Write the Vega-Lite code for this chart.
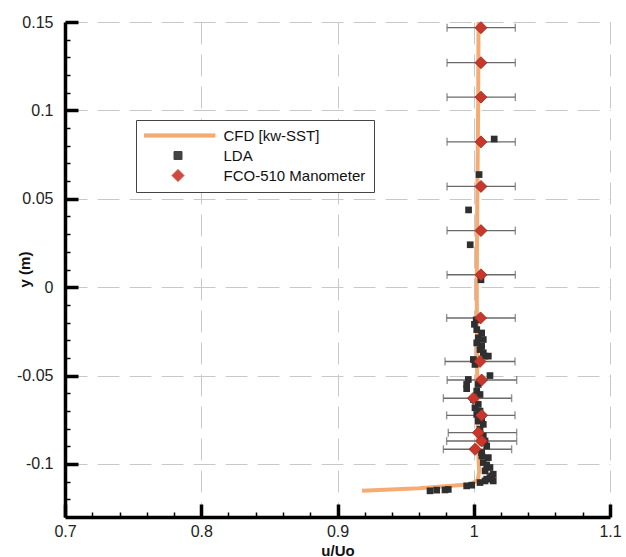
{
  "$schema": "https://vega.github.io/schema/vega-lite/v6.json",
  "width": 545,
  "height": 495,
  "autosize": {"type": "none"},
  "padding": {"left": 65, "top": 22, "right": 16, "bottom": 40},
  "background": "white",
  "config": {
    "view": {"stroke": null},
    "font": "Liberation Sans"
  },
  "datasets": {
    "cfd": [
      {"i": 1, "x": 1.0035, "y": 0.15},
      {"i": 2, "x": 1.0032, "y": 0.1},
      {"i": 3, "x": 1.0026, "y": 0.05},
      {"i": 4, "x": 1.0022, "y": 0.0},
      {"i": 5, "x": 1.0025, "y": -0.05},
      {"i": 6, "x": 1.003, "y": -0.09},
      {"i": 7, "x": 1.004, "y": -0.104},
      {"i": 8, "x": 1.003, "y": -0.109},
      {"i": 9, "x": 0.998, "y": -0.1115},
      {"i": 10, "x": 0.96, "y": -0.1137},
      {"i": 11, "x": 0.918, "y": -0.1152}
    ],
    "lda": [
      {"x": 1.015, "y": 0.0838},
      {"x": 1.0039, "y": 0.0637},
      {"x": 0.9962, "y": 0.0437},
      {"x": 0.9974, "y": 0.024},
      {"x": 1.0053, "y": 0.0042},
      {"x": 1.0018, "y": -0.0185},
      {"x": 1.0005, "y": -0.021},
      {"x": 1.0022, "y": -0.024},
      {"x": 1.0058, "y": -0.0259},
      {"x": 1.0033, "y": -0.0287},
      {"x": 1.007, "y": -0.0296},
      {"x": 1.0022, "y": -0.0315},
      {"x": 1.0058, "y": -0.0334},
      {"x": 1.0046, "y": -0.0353},
      {"x": 1.007, "y": -0.0371},
      {"x": 1.0083, "y": -0.039},
      {"x": 1.0107, "y": -0.039},
      {"x": 0.9997, "y": -0.0409},
      {"x": 1.0009, "y": -0.0437},
      {"x": 1.0119, "y": -0.05},
      {"x": 0.996, "y": -0.0522},
      {"x": 0.9948, "y": -0.055},
      {"x": 0.9948, "y": -0.0574},
      {"x": 1.0033, "y": -0.055},
      {"x": 1.0022, "y": -0.0588},
      {"x": 1.0046, "y": -0.0607},
      {"x": 0.9997, "y": -0.0635},
      {"x": 1.0033, "y": -0.0663},
      {"x": 1.0009, "y": -0.0682},
      {"x": 1.0046, "y": -0.0701},
      {"x": 1.0022, "y": -0.072},
      {"x": 1.0058, "y": -0.0738},
      {"x": 1.0033, "y": -0.0757},
      {"x": 1.007, "y": -0.0776},
      {"x": 1.0046, "y": -0.0804},
      {"x": 1.007, "y": -0.0842},
      {"x": 1.0083, "y": -0.087},
      {"x": 1.0095, "y": -0.0898},
      {"x": 1.0058, "y": -0.0936},
      {"x": 1.006, "y": -0.0955},
      {"x": 1.0107, "y": -0.0964},
      {"x": 1.007, "y": -0.0992},
      {"x": 1.0095, "y": -0.1005},
      {"x": 1.0119, "y": -0.102},
      {"x": 1.0083, "y": -0.1039},
      {"x": 1.0131, "y": -0.1068},
      {"x": 1.0095, "y": -0.1086},
      {"x": 1.0143, "y": -0.1096},
      {"x": 0.9679, "y": -0.1152},
      {"x": 0.9728, "y": -0.1148},
      {"x": 0.9789, "y": -0.1147},
      {"x": 0.9813, "y": -0.1144},
      {"x": 0.9948, "y": -0.1124},
      {"x": 0.9985, "y": -0.112},
      {"x": 1.0046, "y": -0.1105},
      {"x": 1.0083, "y": -0.1096},
      {"x": 1.0119, "y": -0.1077},
      {"x": 1.0143, "y": -0.1058}
    ],
    "man": [
      {"x": 1.0053, "y": 0.1468, "lo": 0.9804, "hi": 1.0305},
      {"x": 1.0053, "y": 0.127, "lo": 0.9804, "hi": 1.0305},
      {"x": 1.0053, "y": 0.1075, "lo": 0.9804, "hi": 1.0305},
      {"x": 1.0053, "y": 0.0822, "lo": 0.9804, "hi": 1.0305},
      {"x": 1.0053, "y": 0.057, "lo": 0.9804, "hi": 1.0305},
      {"x": 1.0053, "y": 0.032, "lo": 0.9804, "hi": 1.0305},
      {"x": 1.0053, "y": 0.007, "lo": 0.9804, "hi": 1.0305},
      {"x": 1.005, "y": -0.0174, "lo": 0.9801, "hi": 1.0305},
      {"x": 1.0046, "y": -0.042, "lo": 0.9789, "hi": 1.0303},
      {"x": 1.0058, "y": -0.0525, "lo": 0.9805, "hi": 1.0315},
      {"x": 0.9997, "y": -0.0628, "lo": 0.9777, "hi": 1.0278},
      {"x": 1.0058, "y": -0.0725, "lo": 0.9801, "hi": 1.0303},
      {"x": 1.0034, "y": -0.0823, "lo": 0.9813, "hi": 1.0315},
      {"x": 1.0058, "y": -0.087, "lo": 0.9801, "hi": 1.0315},
      {"x": 1.0009, "y": -0.0917, "lo": 0.9777, "hi": 1.0278}
    ]
  },
  "layer": [
    {
      "data": {"name": "man"},
      "mark": {"type": "rule", "stroke": "#6a6a6a", "strokeWidth": 1.4},
      "encoding": {
        "x": {
          "field": "lo", "type": "quantitative",
          "scale": {"domain": [0.7, 1.1], "nice": false, "zero": false},
          "axis": {
            "values": [0.7, 0.72, 0.74, 0.76, 0.78, 0.8, 0.82, 0.84, 0.86, 0.88, 0.9, 0.92, 0.94, 0.96, 0.98, 1, 1.02, 1.04, 1.06, 1.08, 1.1],
            "tickCount": 200,
            "title": "u/Uo",
            "titleFontSize": 15,
            "titleFontWeight": "bold",
            "titleColor": "#111",
            "titleY": 33,
            "titleBaseline": "middle",
            "labelExpr": "indexof([0.7,0.8,0.9,1,1.1], datum.value) >= 0 ? ''+datum.value : ''",
            "labelFontSize": 16,
            "labelColor": "#222",
            "labelFlush": false,
            "labelOverlap": false,
            "labelPadding": 19,
            "tickColor": "black",
            "tickSize": {"condition": {"test": "indexof([0.7,0.8,0.9,1,1.1], datum.value) >= 0", "value": -13}, "value": -5},
            "tickWidth": {"condition": {"test": "indexof([0.7,0.8,0.9,1,1.1], datum.value) >= 0", "value": 3.5}, "value": 1.5},
            "grid": true,
            "gridColor": "#c8c8c8",
            "gridDash": [22, 10],
            "gridWidth": 1,
            "gridOpacity": {"condition": {"test": "indexof([0.7,0.8,0.9,1,1.1], datum.value) >= 0", "value": 1}, "value": 0},
            "domainColor": "black",
            "domainWidth": 3.5
          }
        },
        "x2": {"field": "hi"},
        "y": {
          "field": "y", "type": "quantitative",
          "scale": {"domain": [-0.13, 0.15], "nice": false, "zero": false},
          "axis": {
            "values": [-0.12, -0.11, -0.1, -0.09, -0.08, -0.07, -0.06, -0.05, -0.04, -0.03, -0.02, -0.01, 0, 0.01, 0.02, 0.03, 0.04, 0.05, 0.06, 0.07, 0.08, 0.09, 0.1, 0.11, 0.12, 0.13, 0.14, 0.15],
            "tickCount": 200,
            "title": "y (m)",
            "titleFontSize": 15,
            "titleFontWeight": "bold",
            "titleColor": "#111",
            "titleX": -33,
            "titleY": 247,
            "titleAngle": -90,
            "titleAlign": "center",
            "titleBaseline": "bottom",
            "labelExpr": "indexof([-0.1,-0.05,0,0.05,0.1,0.15], datum.value) >= 0 ? ''+datum.value : ''",
            "labelFontSize": 16,
            "labelColor": "#222",
            "labelFlush": false,
            "labelOverlap": false,
            "labelPadding": 25,
            "tickColor": "black",
            "tickSize": {"condition": {"test": "indexof([-0.1,-0.05,0,0.05,0.1,0.15], datum.value) >= 0", "value": -13}, "value": -5},
            "tickWidth": {"condition": {"test": "indexof([-0.1,-0.05,0,0.05,0.1,0.15], datum.value) >= 0", "value": 3.5}, "value": 1.5},
            "grid": true,
            "gridColor": "#c8c8c8",
            "gridDash": [22, 10],
            "gridWidth": 1,
            "gridOpacity": {"condition": {"test": "indexof([-0.1,-0.05,0,0.05,0.1,0.15], datum.value) >= 0", "value": 1}, "value": 0},
            "domainColor": "black",
            "domainWidth": 3.5
          }
        }
      }
    },
    {
      "data": {"name": "man"},
      "mark": {"type": "tick", "orient": "vertical", "color": "#6a6a6a", "thickness": 1.4, "size": 8},
      "encoding": {
        "x": {"field": "lo", "type": "quantitative"},
        "y": {"field": "y", "type": "quantitative"}
      }
    },
    {
      "data": {"name": "man"},
      "mark": {"type": "tick", "orient": "vertical", "color": "#6a6a6a", "thickness": 1.4, "size": 8},
      "encoding": {
        "x": {"field": "hi", "type": "quantitative"},
        "y": {"field": "y", "type": "quantitative"}
      }
    },
    {
      "data": {"name": "cfd"},
      "mark": {"type": "line", "strokeWidth": 4, "opacity": 0.9},
      "encoding": {
        "x": {"field": "x", "type": "quantitative"},
        "y": {"field": "y", "type": "quantitative"},
        "order": {"field": "i", "type": "quantitative"},
        "color": {
          "datum": "CFD [kw-SST]",
          "scale": {
            "domain": ["CFD [kw-SST]", "LDA", "FCO-510 Manometer"],
            "range": ["#f4a262", "#2f2f2f", "#c9372c"]
          },
          "legend": {
            "orient": "none",
            "legendX": 71,
            "legendY": 98,
            "title": null,
            "fillColor": "white",
            "strokeColor": "#444",
            "padding": 8,
            "labelFontSize": 15,
            "labelColor": "#111",
            "labelFont": "Liberation Sans",
            "clipHeight": 15,
            "symbolSize": 64,
            "symbolStrokeWidth": 1,
            "symbolOffset": 26.5,
            "labelOffset": 38,
            "rowPadding": 4
          }
        }
      }
    },
    {
      "data": {"name": "lda"},
      "mark": {"type": "point", "filled": true, "opacity": 1, "size": 45},
      "encoding": {
        "x": {"field": "x", "type": "quantitative"},
        "y": {"field": "y", "type": "quantitative"},
        "color": {"datum": "LDA"},
        "shape": {
          "datum": "LDA",
          "scale": {
            "domain": ["CFD [kw-SST]", "LDA", "FCO-510 Manometer"],
            "range": ["M-9.25,-0.4L9.25,-0.4L9.25,0.4L-9.25,0.4Z", "square", "M0,-1.5L1.5,0L0,1.5L-1.5,0Z"]
          }
        }
      }
    },
    {
      "data": {"name": "man"},
      "mark": {"type": "point", "filled": true, "opacity": 1, "size": 64, "stroke": "#8e2a20", "strokeWidth": 0.8},
      "encoding": {
        "x": {"field": "x", "type": "quantitative"},
        "y": {"field": "y", "type": "quantitative"},
        "color": {"datum": "FCO-510 Manometer"},
        "shape": {"datum": "FCO-510 Manometer"}
      }
    }
  ]
}
